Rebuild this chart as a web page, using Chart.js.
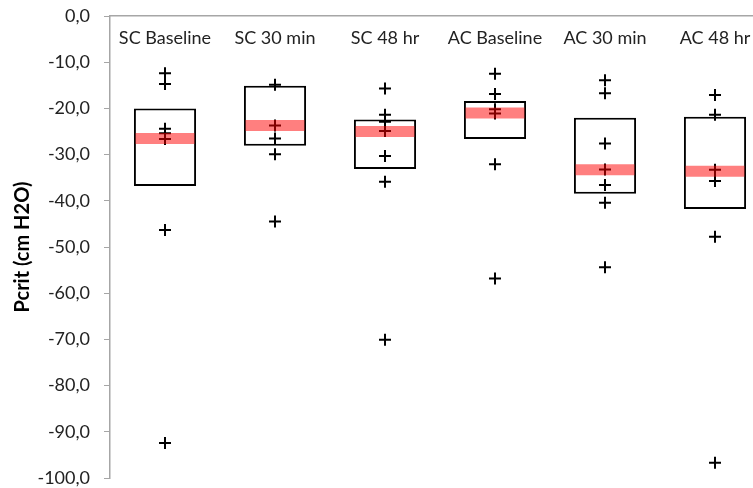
<!DOCTYPE html>
<html>
<head>
<meta charset="utf-8">
<script src="https://cdn.jsdelivr.net/npm/chart.js@4/dist/chart.umd.min.js"></script>
<style>
  html, body { margin: 0; padding: 0; background: #fff; overflow: hidden; }
  #wrap { width: 770px; height: 488px; }
</style>
</head>
<body>
<div id="wrap"><canvas id="chart"></canvas></div>
<script>
const categories = ["SC Baseline", "SC 30 min", "SC 48 hr", "AC Baseline", "AC 30 min", "AC 48 hr"];
const boxLow = [-36.8, -28.1, -33.1, -26.6, -38.5, -41.8];
const boxHigh = [-20.0, -15.1, -22.4, -18.4, -22.0, -21.8];
const medians = [-26.5, -23.7, -25.0, -21.0, -33.3, -33.6];

const scBaseline = [-12.4, -14.7, -24.4, -25.4, -26.6, -46.3, -92.4];
const sc30 = [-14.9, -23.7, -26.5, -29.9, -44.5];
const sc48 = [-15.7, -21.4, -22.9, -24.9, -30.3, -35.9, -70.1];
const acBaseline = [-12.5, -16.9, -20.2, -21.1, -32.1, -56.8];
const ac30 = [-13.9, -16.7, -27.6, -33.2, -36.6, -40.4, -54.4];
const ac48 = [-17.1, -21.4, -33.3, -35.7, -47.8, -96.7];

const yTicks = [0, -10, -20, -30, -40, -50, -60, -70, -80, -90, -100];

const groups = [scBaseline, sc30, sc48, acBaseline, ac30, ac48];
const points = [];
groups.forEach((vals, i) => {
  vals.forEach((v) => points.push({ x: categories[i], y: v }));
});

const font = "Lato, 'Open Sans', sans-serif";

new Chart(document.getElementById("chart"), {
  type: "bar",
  data: {
    labels: categories,
    datasets: [
      {
        // median band, drawn on top
        type: "line",
        data: medians,
        showLine: false,
        pointStyle: "line",
        pointRadius: 29.5,
        pointBorderWidth: 11,
        pointBorderColor: "rgba(255,0,0,0.5)",
        order: 0,
      },
      {
        type: "line",
        data: points,
        showLine: false,
        pointStyle: "cross",
        pointRadius: 6,
        pointBorderWidth: 2,
        pointBorderColor: "#000",
        order: 1,
      },
      {
        data: categories.map((c, i) => [boxLow[i], boxHigh[i]]),
        backgroundColor: "#fff",
        borderColor: "#000",
        borderWidth: 2,
        borderSkipped: false,
        grouped: false,
        categoryPercentage: 1,
        barPercentage: 0.565,
        order: 2,
      },
    ],
  },
  options: {
    responsive: true,
    maintainAspectRatio: false,
    animation: false,
    events: [],
    layout: { autoPadding: false, padding: { top: 16, bottom: 10, left: 0, right: 0 } },
    plugins: { legend: { display: false }, tooltip: { enabled: false } },
    scales: {
      x: {
        type: "category",
        position: { y: 0 },
        afterFit: (scale) => {
          scale.height = 0;
          scale.paddingLeft = 0;
          scale.paddingRight = 0;
        },
        grid: { display: false, drawTicks: false },
        border: { display: true, color: "#a6a6a6", width: 1.5 },
        ticks: { color: "#222", font: { family: font, size: 18 }, padding: 11, maxRotation: 0 },
      },
      y: {
        min: -100,
        max: 0,
        afterFit: (scale) => {
          scale.width = 110;
          scale.paddingTop = 0;
          scale.paddingBottom = 0;
        },
        afterBuildTicks: (scale) => { scale.ticks = yTicks.map((v) => ({ value: v })); },
        grid: { display: true, drawOnChartArea: false, drawTicks: true, tickLength: 6, color: "#a6a6a6" },
        border: { color: "#a6a6a6", width: 1.5 },
        ticks: {
          color: "#222",
          font: { family: font, size: 18 },
          padding: 14,
          callback: (v) => v.toFixed(1).replace(".", ","),
        },
        title: {
          display: true,
          text: "Pcrit (cm H2O)",
          color: "#000",
          font: { family: font, size: 20, weight: "bold" },
          padding: { top: 11, bottom: 0 },
        },
      },
    },
  },
});
</script>
</body>
</html>
